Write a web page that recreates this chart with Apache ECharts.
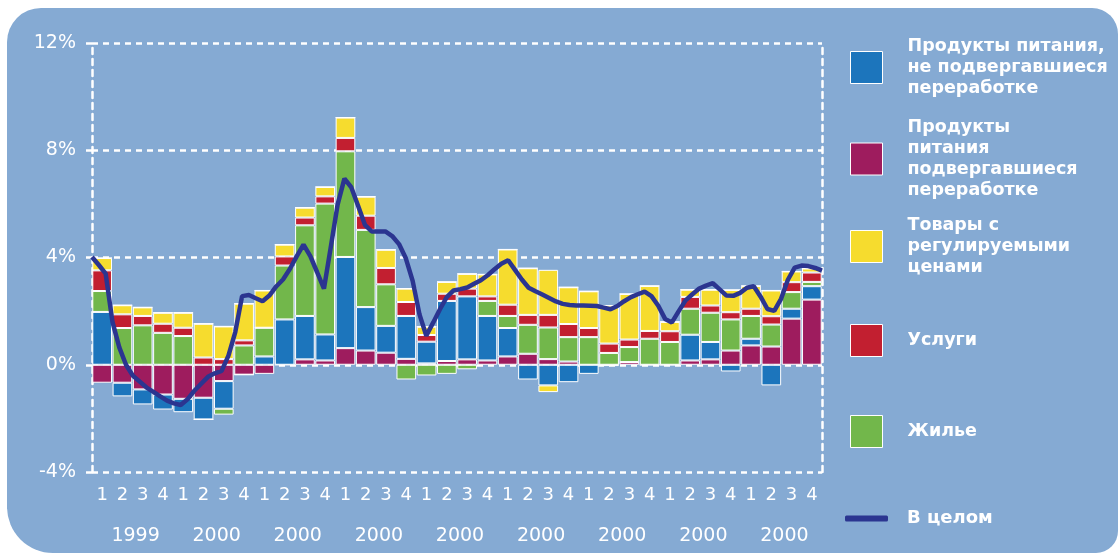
<!DOCTYPE html>
<html>
<head>
<meta charset="utf-8">
<script src="https://cdn.jsdelivr.net/npm/echarts@6/dist/echarts.min.js"></script>
<style>
html,body{margin:0;padding:0;background:#ffffff;width:1118px;height:557px;overflow:hidden;}
#panel{position:absolute;left:7px;top:8px;width:1111px;height:545px;background:#85AAD3;border-radius:34px 26px 22px 46px;}
#chart{position:absolute;left:0;top:0;width:1118px;height:557px;}
</style>
</head>
<body>
<div id="panel"></div>
<div id="chart"></div>
<script>
// ---- data ----
const quarters = ['1','2','3','4','1','2','3','4','1','2','3','4','1','2','3','4','1','2','3','4','1','2','3','4','1','2','3','4','1','2','3','4','1','2','3','4'];
const years = ['1999','2000','2000','2000','2000','2000','2000','2000','2000'];

const foodProcessed = [-0.67,-0.67,-0.92,-1.11,-1.27,-1.23,-0.61,-0.37,-0.34,0,0.20,0.16,0.62,0.53,0.45,0.22,0.05,0.14,0.20,0.16,0.31,0.41,0.21,0.12,0,0,0.10,0,0,0.16,0.20,0.53,0.72,0.68,1.72,2.43];
const foodUnprocessed = [1.97,-0.51,-0.56,-0.56,-0.50,-0.81,-1.03,0,0.31,1.69,1.62,0.97,3.40,1.62,1.00,1.60,0.81,2.24,2.35,1.66,1.06,-0.55,-0.77,-0.65,-0.34,-0.05,0,0,0,0.96,0.65,-0.25,0.25,-0.77,0.37,0.50];
const housing = [0.78,1.37,1.47,1.19,1.07,0,-0.22,0.72,1.07,2.01,3.38,4.88,3.94,2.88,1.55,-0.55,-0.40,-0.34,-0.17,0.56,0.45,1.08,1.18,0.91,1.03,0.44,0.56,0.97,0.85,0.97,1.09,1.16,0.85,0.82,0.62,0.16];
const services = [0.77,0.51,0.35,0.34,0.31,0.27,0.21,0.19,0,0.34,0.29,0.27,0.50,0.53,0.61,0.52,0.25,0.27,0.29,0.17,0.42,0.37,0.47,0.49,0.34,0.35,0.28,0.29,0.40,0.44,0.27,0.27,0.27,0.31,0.37,0.35];
const regulated = [0.46,0.34,0.32,0.41,0.56,1.26,1.22,1.37,1.39,0.44,0.37,0.35,0.76,0.71,0.68,0.50,0.31,0.44,0.55,0.82,2.06,1.74,1.68,1.37,1.37,1.42,1.70,1.68,0.35,0.27,0.59,0.83,0.85,0.96,0.40,0.15];
const regulatedNeg = [0,0,0,0,0,0,0,0,0,0,0,0,0,0,0,0,0,0,0,0,0,0,-0.25,0,0,0,0,0,0,0,0,0,0,0,0,0];

// monthly overall inflation (108 months)
const total = [4.02,3.72,3.40,1.60,0.65,-0.01,-0.41,-0.63,-0.85,-1.01,-1.18,-1.34,
 -1.44,-1.50,-1.29,-0.97,-0.71,-0.45,-0.32,-0.23,0.34,1.22,2.56,2.60,
 2.48,2.37,2.58,2.92,3.18,3.57,4.04,4.48,4.05,3.45,2.84,4.39,
 5.97,6.94,6.62,5.93,5.22,4.97,4.97,4.97,4.80,4.50,3.97,3.13,
 1.88,1.08,1.57,2.07,2.52,2.77,2.82,2.88,3.02,3.15,3.34,3.56,
 3.77,3.90,3.54,3.18,2.87,2.74,2.62,2.49,2.36,2.27,2.23,2.21,
 2.21,2.20,2.19,2.13,2.07,2.19,2.37,2.52,2.63,2.73,2.56,2.20,
 1.71,1.58,2.00,2.40,2.63,2.84,2.95,3.04,2.81,2.58,2.57,2.68,
 2.87,2.93,2.54,2.08,2.01,2.46,3.17,3.62,3.70,3.68,3.61,3.51];
const months = total.map((v,i)=>'m'+(i+1));

const yTicks = {min:-4, max:12, interval:4};

const N1 = 'Продукты питания, не подвергавшиеся переработке';
const N2 = 'Продукты питания подвергавшиеся переработке';
const N3 = 'Товары с регулируемыми ценами';
const N4 = 'Услуги';
const N5 = 'Жилье';
const N6 = 'В целом';
const legendText = {};
legendText[N1] = 'Продукты питания,\nне подвергавшиеся\nпереработке';
legendText[N2] = 'Продукты\nпитания\nподвергавшиеся\nпереработке';
legendText[N3] = 'Товары с\nрегулируемыми\nценами';
legendText[N4] = 'Услуги';
legendText[N5] = 'Жилье';
legendText[N6] = 'В целом';

const C = {blue:'#1C75BC', purple:'#9E1C5E', yellow:'#F6DC2E', red:'#C21F30', green:'#72B74B', line:'#2B3590'};

const chart = echarts.init(document.getElementById('chart'), null, {renderer:'canvas'});
const FONT = 'DejaVu Sans';
const dashed = {color:'#ffffff', type:[6,5], width:2.5};

function bar(name, data, color){
  return {name, type:'bar', stack:'t', data, xAxisIndex:0, yAxisIndex:0,
    barCategoryGap:'3%', itemStyle:{color, borderColor:'#ffffff', borderWidth:1}, emphasis:{disabled:true}};
}
function leg(name, top, opts){
  return Object.assign({data:[name], left:850, top, padding:0, orient:'vertical',
    itemWidth:32, itemHeight:32, icon:'rect',
    itemStyle:{borderColor:'#ffffff', borderWidth:1},
    formatter:n=>legendText[n],
    textStyle:{color:'#ffffff', fontFamily:FONT, fontWeight:'bold', fontSize:17.5, lineHeight:21, padding:[0,0,0,20]},
    selectedMode:false}, opts||{});
}

chart.setOption({
  animation:false,
  textStyle:{fontFamily:FONT},
  grid:{left:92, right:296, top:43, bottom:85},
  xAxis:[
    {type:'category', data:quarters, position:'bottom', axisLine:{show:false}, axisTick:{show:false},
      axisLabel:{color:'#ffffff', fontSize:18, fontFamily:FONT, margin:14, interval:0}},
    {type:'category', data:years, position:'bottom', offset:41, axisLine:{show:false}, axisTick:{show:false},
      axisLabel:{color:'#ffffff', fontSize:19, fontFamily:FONT, margin:14, interval:0, padding:[0,0,0,6]}},
    {type:'category', data:months, show:false, boundaryGap:false}
  ],
  yAxis:[
    {type:'value', min:yTicks.min, max:yTicks.max, interval:yTicks.interval,
      axisLabel:{formatter:'{value}%', color:'#ffffff', fontSize:19, fontFamily:FONT, margin:16},
      axisLine:{show:true, lineStyle:dashed}, axisTick:{show:true, length:6, lineStyle:{color:'#ffffff', width:2.5}},
      splitLine:{show:true, lineStyle:dashed}},
    {type:'value', position:'right', min:yTicks.min, max:yTicks.max, interval:yTicks.interval,
      axisLabel:{show:false}, axisLine:{show:true, lineStyle:dashed}, axisTick:{show:false}, splitLine:{show:false}}
  ],
  legend:[
    leg(N1, 36),
    leg(N2, 117),
    leg(N3, 215),
    leg(N4, 324),
    leg(N5, 415),
    leg(N6, 508, {left:845, itemWidth:43, itemHeight:6, icon:'roundRect', itemStyle:{borderWidth:0}, textStyle:{color:'#ffffff', fontFamily:FONT, fontWeight:'bold', fontSize:18, lineHeight:21, padding:[0,0,0,14]}})
  ],
  series:[
    bar(N2, foodProcessed, C.purple),
    bar(N1, foodUnprocessed, C.blue),
    bar(N5, housing, C.green),
    bar(N4, services, C.red),
    bar(N3, regulated, C.yellow),
    bar(N3+' ', regulatedNeg, C.yellow),
    {name:N6, type:'line', xAxisIndex:2, yAxisIndex:0, data:total, showSymbol:false, symbol:'none',
      lineStyle:{color:C.line, width:4.5}, itemStyle:{color:C.line}, z:5, emphasis:{disabled:true}}
  ]
});
</script>
</body>
</html>
